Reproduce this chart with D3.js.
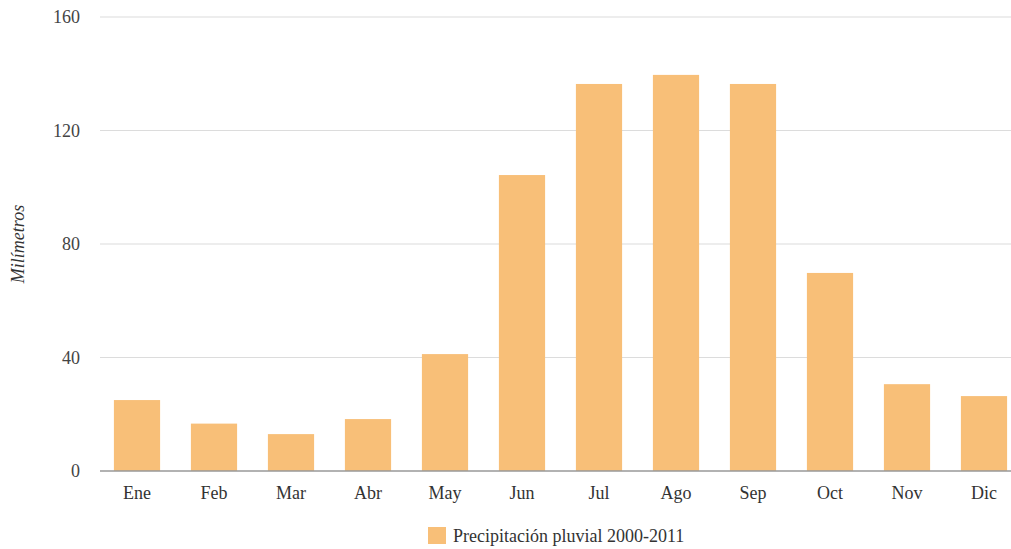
<!DOCTYPE html>
<html>
<head>
<meta charset="utf-8">
<script src="https://cdn.jsdelivr.net/npm/d3@7"></script>
<style>
  body { margin: 0; background: #fff; }
  svg { display: block; font-family: "Liberation Serif", "Times New Roman", serif; }
</style>
</head>
<body>
<div id="container"></div>
<script>
/* DATA */
const months = ["Ene", "Feb", "Mar", "Abr", "May", "Jun", "Jul", "Ago", "Sep", "Oct", "Nov", "Dic"];
const rain = [25, 16.7, 13, 18.3, 41.2, 104.3, 136.4, 139.6, 136.4, 69.8, 30.6, 26.4];
const yTicks = [0, 40, 80, 120, 160];
const seriesName = "Precipitación pluvial 2000-2011";

/* CONSTANTS */
const width = 1011;
const height = 549;
const margin = {top: 17, bottom: 78, left: 98.5, right: -11.5};
const barColor = "#f8bf78";

const svg = d3.select("#container")
  .append("svg")
  .attr("width", width)
  .attr("height", height)

/* SCALES */
const xScale = d3.scaleBand()
  .domain(months)
  .range([margin.left, width - margin.right])
  .paddingInner(0.4)
  .paddingOuter(0.2)

const yScale = d3.scaleLinear()
  .domain([0, 160])
  .range([height - margin.bottom, margin.top])

// Gridlines
svg.append("g")
  .selectAll("line")
  .data(yTicks.filter(d => d > 0))
  .join("line")
  .attr("x1", 100)
  .attr("x2", width)
  .attr("y1", d => yScale(d))
  .attr("y2", d => yScale(d))
  .attr("stroke", "#dcdcdc")
  .attr("stroke-width", 1.2)

// Y labels
svg.append("g")
  .selectAll("text")
  .data(yTicks)
  .join("text")
  .attr("x", 80)
  .attr("y", d => yScale(d))
  .attr("dy", "0.35em")
  .attr("text-anchor", "end")
  .attr("fill", "#444")
  .style("font-size", "18px")
  .text(d => d)

// Bars
svg.append("g")
  .selectAll("rect")
  .data(rain)
  .join("rect")
  .attr("x", (d, i) => xScale(months[i]))
  .attr("y", d => yScale(d))
  .attr("width", xScale.bandwidth())
  .attr("height", d => yScale(0) - yScale(d))
  .attr("fill", barColor)

// Baseline
svg.append("line")
  .attr("x1", 100)
  .attr("x2", width)
  .attr("y1", yScale(0))
  .attr("y2", yScale(0))
  .attr("stroke", "#999")
  .attr("stroke-width", 1.5)

// X labels
svg.append("g")
  .selectAll("text")
  .data(months)
  .join("text")
  .attr("x", d => xScale(d) + xScale.bandwidth() / 2)
  .attr("y", yScale(0) + 28)
  .attr("text-anchor", "middle")
  .attr("fill", "#333")
  .style("font-size", "18px")
  .text(d => d)

// Y title
svg.append("text")
  .attr("transform", `translate(24, ${yScale(80)})rotate(-90)`)
  .attr("text-anchor", "middle")
  .attr("fill", "#333")
  .style("font-size", "18px")
  .style("font-style", "italic")
  .text("Milímetros")

// Legend
const legend = svg.append("g")
  .attr("transform", "translate(428, 527)")
legend.append("rect")
  .attr("width", 18)
  .attr("height", 17)
  .attr("fill", barColor)
legend.append("text")
  .attr("x", 25)
  .attr("y", 15)
  .attr("fill", "#333")
  .style("font-size", "18px")
  .text(seriesName)
</script>
</body>
</html>
